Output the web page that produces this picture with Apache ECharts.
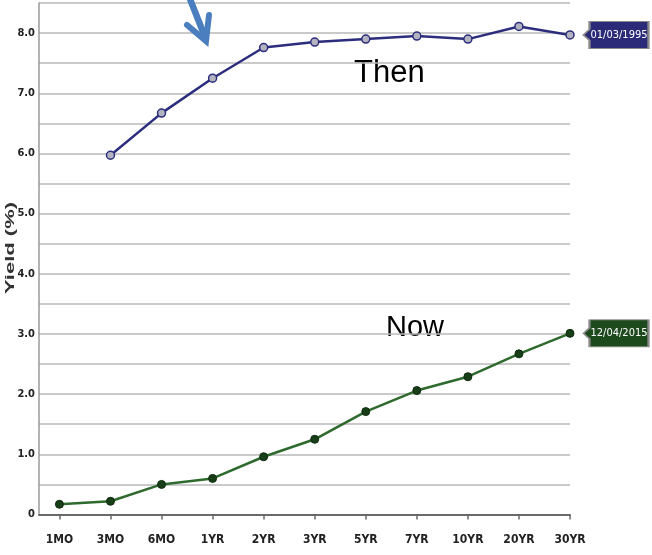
<!DOCTYPE html>
<html>
<head>
<meta charset="utf-8">
<script src="https://cdn.jsdelivr.net/npm/echarts@6/dist/echarts.min.js"></script>
<style>
  html, body { margin: 0; padding: 0; background: #fff; }
  #chart { width: 652px; height: 555px; }
</style>
</head>
<body>
<div id="chart"></div>
<script>
// Treasury yield curve: maturities on x, yield (%) on y
const maturities = ['1MO', '3MO', '6MO', '1YR', '2YR', '3YR', '5YR', '7YR', '10YR', '20YR', '30YR'];
const yields1995 = [null, 5.97, 6.67, 7.25, 7.76, 7.85, 7.90, 7.95, 7.90, 8.11, 7.97];
const yields2015 = [0.17, 0.22, 0.50, 0.60, 0.96, 1.25, 1.71, 2.06, 2.29, 2.67, 3.01];
const curveDates = ['01/03/1995', '12/04/2015'];
const curveNotes = ['Then', 'Now'];
const yTicks = [0, 1, 2, 3, 4, 5, 6, 7, 8];

const narrowFont = '"Liberation Sans Narrow", "DejaVu Sans Condensed", "Arial Narrow", sans-serif';
const navy = '#2c2d7d';
const green = '#2e6a2e';

function toPoints(values) {
  const pts = [];
  values.forEach((v, i) => { if (v !== null) pts.push([i, v]); });
  return pts;
}

// tag shape with a small pointer on its left side
const tagPath = 'path://M0,13.5 L6,8 L6,0 L65,0 L65,27 L6,27 L6,19 Z';

function dateTag(values, text, fill) {
  const last = values.length - 1;
  return {
    silent: true,
    symbol: tagPath,
    symbolSize: [65, 27],
    symbolOffset: [46, 0],
    itemStyle: { color: fill, borderColor: '#8a8a8a', borderWidth: 1.5 },
    label: {
      show: true,
      position: 'inside',
      formatter: text,
      color: '#fff',
      fontFamily: narrowFont,
      fontSize: 11,
      offset: [3, 0]
    },
    data: [{ coord: [last, values[last]] }]
  };
}

const chart = echarts.init(document.getElementById('chart'), null, { renderer: 'canvas' });

chart.setOption({
  animation: false,
  backgroundColor: '#fff',
  grid: { left: 39, right: 82, top: 3, bottom: 40.5, containLabel: false },
  xAxis: {
    type: 'value',
    min: -0.4,
    max: maturities.length - 1,
    splitLine: { show: false },
    axisLine: { show: true, onZero: false, lineStyle: { color: '#6a6a6a', width: 2 } },
    axisTick: {
      show: true,
      length: 5,
      customValues: maturities.map((_, i) => i),
      lineStyle: { color: '#6a6a6a', width: 1.5 }
    },
    axisLabel: {
      customValues: maturities.map((_, i) => i),
      formatter: v => maturities[Math.round(v)],
      margin: 19,
      color: '#222',
      fontFamily: narrowFont,
      fontWeight: 'bold',
      fontSize: 12
    }
  },
  yAxis: {
    type: 'value',
    min: 0,
    max: 8.5,
    interval: 0.5,
    axisLine: { show: true, onZero: false, lineStyle: { color: '#9a9a9a', width: 1.5 } },
    axisTick: { show: false },
    splitLine: { show: true, lineStyle: { color: '#b8b8b8', width: 1.5 } },
    axisLabel: {
      margin: 4,
      color: '#222',
      fontFamily: narrowFont,
      fontWeight: 'bold',
      fontSize: 11,
      formatter: v => {
        if (!yTicks.includes(v)) return '';
        return v === 0 ? '0' : v.toFixed(1);
      }
    }
  },
  series: [
    {
      name: curveDates[0],
      type: 'line',
      data: toPoints(yields1995),
      symbol: 'circle',
      symbolSize: 8,
      lineStyle: { color: navy, width: 2.5 },
      itemStyle: { color: '#b3b3c0', borderColor: navy, borderWidth: 1.5 },
      markPoint: dateTag(yields1995, curveDates[0], '#2b2a78'),
      z: 3
    },
    {
      name: curveDates[1],
      type: 'line',
      data: toPoints(yields2015),
      symbol: 'circle',
      symbolSize: 8,
      lineStyle: { color: green, width: 2.5 },
      itemStyle: { color: '#173f17', borderColor: '#0f2a0f', borderWidth: 1 },
      markPoint: dateTag(yields2015, curveDates[1], '#1d4a1d'),
      z: 3
    }
  ],
  graphic: [
    {
      type: 'text',
      x: 10,
      y: 248,
      rotation: Math.PI / 2,
      scaleY: 0.6,
      style: {
        text: 'Yield (%)',
        font: 'bold 22px "Liberation Sans", Arial, sans-serif',
        fill: '#333',
        align: 'center',
        verticalAlign: 'middle'
      }
    },
    {
      type: 'text',
      x: 354,
      y: 73,
      style: {
        text: curveNotes[0],
        font: '31px "Liberation Sans", Arial, sans-serif',
        fill: '#000',
        align: 'left',
        verticalAlign: 'middle'
      }
    },
    {
      type: 'text',
      x: 386,
      y: 328,
      style: {
        text: curveNotes[1],
        font: '29px "Liberation Sans", Arial, sans-serif',
        fill: '#000',
        align: 'left',
        verticalAlign: 'middle'
      }
    },
    {
      type: 'polyline',
      shape: { points: [[188, -6], [205, 37]] },
      style: { stroke: '#4a7ebf', lineWidth: 6.5, fill: null, lineCap: 'round' },
      z: 10
    },
    {
      type: 'polyline',
      shape: { points: [[187, 25], [206, 41], [209, 15]] },
      style: { stroke: '#4a7ebf', lineWidth: 6, fill: null, lineCap: 'round', lineJoin: 'miter' },
      z: 10
    }
  ]
});
</script>
</body>
</html>
